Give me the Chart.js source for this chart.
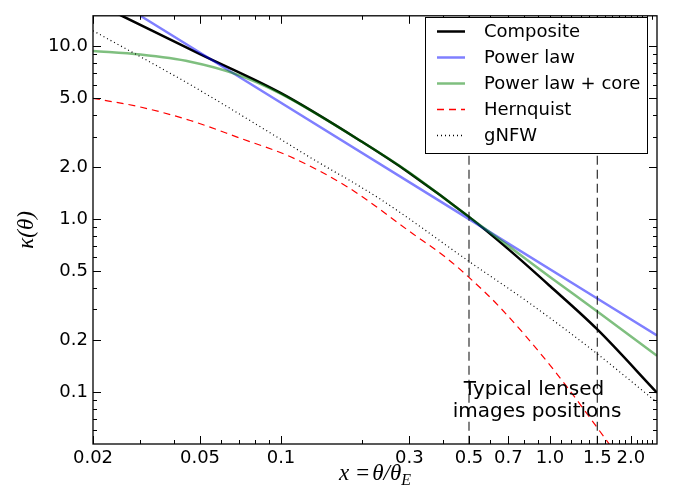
<!DOCTYPE html>
<html>
<head>
<meta charset="utf-8">
<script src="https://cdn.jsdelivr.net/npm/chart.js@4.4.0/dist/chart.umd.min.js"></script>
<style>
  html, body { margin: 0; padding: 0; background: #fff; }
  canvas { display: block; }
</style>
</head>
<body>
<canvas id="kappa" width="675" height="495"></canvas>
<script>
// ---------- values ----------
const compositeX = [0.02, 0.0256, 0.05, 0.1, 0.2, 0.3, 0.5, 0.7, 1.0, 1.5, 2.5];
const compositeY = [18.1, 15.0, 9.0, 5.35, 2.8, 1.85, 1.03, 0.67, 0.41, 0.23, 0.099];

const powerX = [0.03, 0.5, 2.5];
const powerY = [15.0, 1.0, 0.212];

const coreX = [0.02, 0.03, 0.046, 0.068, 0.1, 0.2, 0.3, 0.5, 0.7, 1.0, 1.5, 2.5];
const coreY = [9.4, 8.95, 8.14, 6.9, 5.3, 2.8, 1.86, 1.03, 0.70, 0.463, 0.292, 0.162];

const hernX = [0.02, 0.03, 0.046, 0.07, 0.108, 0.176, 0.31, 0.41, 0.5, 0.65, 1.03, 1.66, 1.8];
const hernY = [5.0, 4.45, 3.72, 2.95, 2.3, 1.54, 0.82, 0.60, 0.46, 0.31, 0.135, 0.05, 0.042];

const gnfwX = [0.02, 0.0459, 0.0985, 0.128, 0.233, 0.497, 0.843, 1.45, 2.5];
const gnfwY = [12.3, 6.0, 2.93, 2.28, 1.31, 0.573, 0.325, 0.173, 0.087];

// typical image positions (vertical dashed lines)
const imageX = [0.5, 1.5];

// axes
const xRange = [0.02, 2.5];
const yRange = [0.05, 15];
const xTickVals = [0.02, 0.05, 0.1, 0.3, 0.5, 0.7, 1.0, 1.5, 2.0];
const xTickLabels = ['0.02', '0.05', '0.1', '0.3', '0.5', '0.7', '1.0', '1.5', '2.0'];
const xMinor = [0.03, 0.04, 0.06, 0.07, 0.08, 0.09, 0.2, 0.3, 0.4, 0.6, 0.7, 0.8, 0.9,
                1.1, 1.2, 1.3, 1.4, 1.6, 1.7, 1.8, 1.9, 2.1, 2.2, 2.3, 2.4];
const yTickVals = [0.1, 0.2, 0.5, 1, 2, 5, 10];
const yTickLabels = ['0.1', '0.2', '0.5', '1.0', '2.0', '5.0', '10.0'];
const yMinor = [0.06, 0.07, 0.08, 0.09, 0.3, 0.4, 0.6, 0.7, 0.8, 0.9, 3, 4, 6, 7, 8, 9];

const legendNames = ['Composite', 'Power law', 'Power law + core', 'Hernquist', 'gNFW'];
const noteLines = ['Typical lensed', 'images positions'];

// ---------- helpers ----------
function pts(xs, ys){ return xs.map((x, i) => ({x: x, y: ys[i]})); }

const BLACK = '#000000';
const BLUE = 'rgba(0,0,255,0.5)';
const GREEN = 'rgba(0,128,0,0.5)';
const RED = 'rgb(255,0,0)';
const FONT = '"DejaVu Sans", sans-serif';

const styles = [
  {color: BLACK, width: 2.5, dash: []},
  {color: BLUE,  width: 2.5, dash: []},
  {color: GREEN, width: 2.5, dash: []},
  {color: RED,   width: 1.2, dash: [7, 5]},
  {color: BLACK, width: 1.2, dash: [1, 3]}
];
const series = [pts(compositeX, compositeY), pts(powerX, powerY), pts(coreX, coreY),
                pts(hernX, hernY), pts(gnfwX, gnfwY)];

const datasets = series.map((d, i) => ({
  label: legendNames[i],
  data: d,
  borderColor: styles[i].color,
  borderWidth: styles[i].width,
  borderDash: styles[i].dash.slice(),
  pointRadius: 0,
  fill: false,
  cubicInterpolationMode: 'monotone',
  order: 10 - i
}));

imageX.forEach(x => {
  datasets.push({
    label: 'image',
    data: [{x: x, y: yRange[1]}, {x: x, y: yRange[0]}],
    borderColor: 'rgba(0,0,0,0.75)',
    borderWidth: 1.3,
    borderDash: [9, 5],
    pointRadius: 0,
    fill: false,
    tension: 0,
    order: 1
  });
});

// ---------- frame, inward ticks, legend, notes, axis titles ----------
const decorations = {
  id: 'decorations',
  afterDraw(chart){
    const ctx = chart.ctx;
    const a = chart.chartArea;
    const xs = chart.scales.x, ys = chart.scales.y;
    ctx.save();

    // tick marks on all four sides, pointing inward
    ctx.strokeStyle = BLACK;
    ctx.lineWidth = 1;
    function xTick(v, len){
      const p = Math.round(xs.getPixelForValue(v)) + 0.5;
      ctx.beginPath();
      ctx.moveTo(p, a.bottom); ctx.lineTo(p, a.bottom - len);
      ctx.moveTo(p, a.top); ctx.lineTo(p, a.top + len);
      ctx.stroke();
    }
    function yTick(v, len){
      const p = Math.round(ys.getPixelForValue(v)) + 0.5;
      ctx.beginPath();
      ctx.moveTo(a.left, p); ctx.lineTo(a.left + len, p);
      ctx.moveTo(a.right, p); ctx.lineTo(a.right - len, p);
      ctx.stroke();
    }
    xMinor.forEach(v => xTick(v, 4));
    xTickVals.forEach(v => xTick(v, 8));
    yMinor.forEach(v => yTick(v, 4));
    yTickVals.forEach(v => yTick(v, 8));

    // plot frame
    ctx.lineWidth = 1.3;
    ctx.strokeRect(a.left, a.top, a.right - a.left, a.bottom - a.top);

    // legend
    const lx = 425.5, ly = 17.5, lw = 222, lh = 136;
    ctx.fillStyle = '#fff';
    ctx.fillRect(lx, ly, lw, lh);
    ctx.lineWidth = 1;
    ctx.strokeStyle = BLACK;
    ctx.strokeRect(lx, ly, lw, lh);
    ctx.font = '18px ' + FONT;
    ctx.textBaseline = 'middle';
    ctx.textAlign = 'left';
    legendNames.forEach((name, i) => {
      const y = 31.5 + i * 26;
      ctx.beginPath();
      ctx.setLineDash(styles[i].dash);
      ctx.lineWidth = Math.max(styles[i].width, 1.5);
      ctx.strokeStyle = styles[i].color;
      ctx.moveTo(437, y); ctx.lineTo(465, y);
      ctx.stroke();
      ctx.setLineDash([]);
      ctx.fillStyle = BLACK;
      ctx.fillText(name, 484, y + 1);
    });

    // note near the image positions
    ctx.font = '20px ' + FONT;
    ctx.textAlign = 'center';
    ctx.textBaseline = 'alphabetic';
    ctx.fillStyle = BLACK;
    ctx.fillText(noteLines[0], 534, 395);
    ctx.fillText(noteLines[1], 537, 417);

    // y title: kappa(theta)
    ctx.save();
    ctx.translate(27, (a.top + a.bottom) / 2);
    ctx.rotate(-Math.PI / 2);
    ctx.font = 'italic 23px "Liberation Serif", serif';
    ctx.textAlign = 'center';
    ctx.textBaseline = 'middle';
    ctx.fillText('κ(θ)', 0, 0);
    ctx.restore();

    // x title: x = theta / theta_E
    const parts = [
      {t: 'x', f: 'italic 23px "Liberation Serif", serif', dy: 0, gap: 7},
      {t: '=', f: '23px "Liberation Serif", serif', dy: 0, gap: 3},
      {t: 'θ/θ', f: 'italic 23px "Liberation Serif", serif', dy: 0, gap: 0},
      {t: 'E', f: 'italic 16px "Liberation Serif", serif', dy: 5, gap: 0}
    ];
    let total = 0;
    parts.forEach(p => { ctx.font = p.f; p.w = ctx.measureText(p.t).width; total += p.w + p.gap; });
    let cx = (a.left + a.right) / 2 - total / 2;
    ctx.textAlign = 'left';
    parts.forEach(p => {
      ctx.font = p.f;
      ctx.fillText(p.t, cx, 480 + p.dy);
      cx += p.w + p.gap;
    });

    ctx.restore();
  }
};

new Chart(document.getElementById('kappa'), {
  type: 'line',
  data: { datasets: datasets },
  options: {
    responsive: false,
    animation: false,
    layout: { padding: { top: 8, right: 18, left: 0, bottom: 0 } },
    plugins: { legend: { display: false }, tooltip: { enabled: false } },
    scales: {
      x: {
        type: 'logarithmic',
        min: xRange[0], max: xRange[1],
        grid: { display: false, drawTicks: false },
        border: { display: false },
        afterBuildTicks: s => { s.ticks = xTickVals.map(v => ({value: v})); },
        afterFit: s => { s.height = 51; },
        ticks: {
          autoSkip: false, maxRotation: 0, minRotation: 0, padding: 4,
          color: BLACK, font: { family: FONT, size: 18 },
          callback: (v, i) => xTickLabels[i]
        }
      },
      y: {
        type: 'logarithmic',
        min: yRange[0], max: yRange[1],
        grid: { display: false, drawTicks: false },
        border: { display: false },
        afterBuildTicks: s => { s.ticks = yTickVals.map(v => ({value: v})); },
        afterFit: s => { s.width = 93; },
        ticks: {
          autoSkip: false, padding: 5,
          color: BLACK, font: { family: FONT, size: 18 },
          callback: (v, i) => yTickLabels[i]
        }
      }
    }
  },
  plugins: [decorations]
});
</script>
</body>
</html>
